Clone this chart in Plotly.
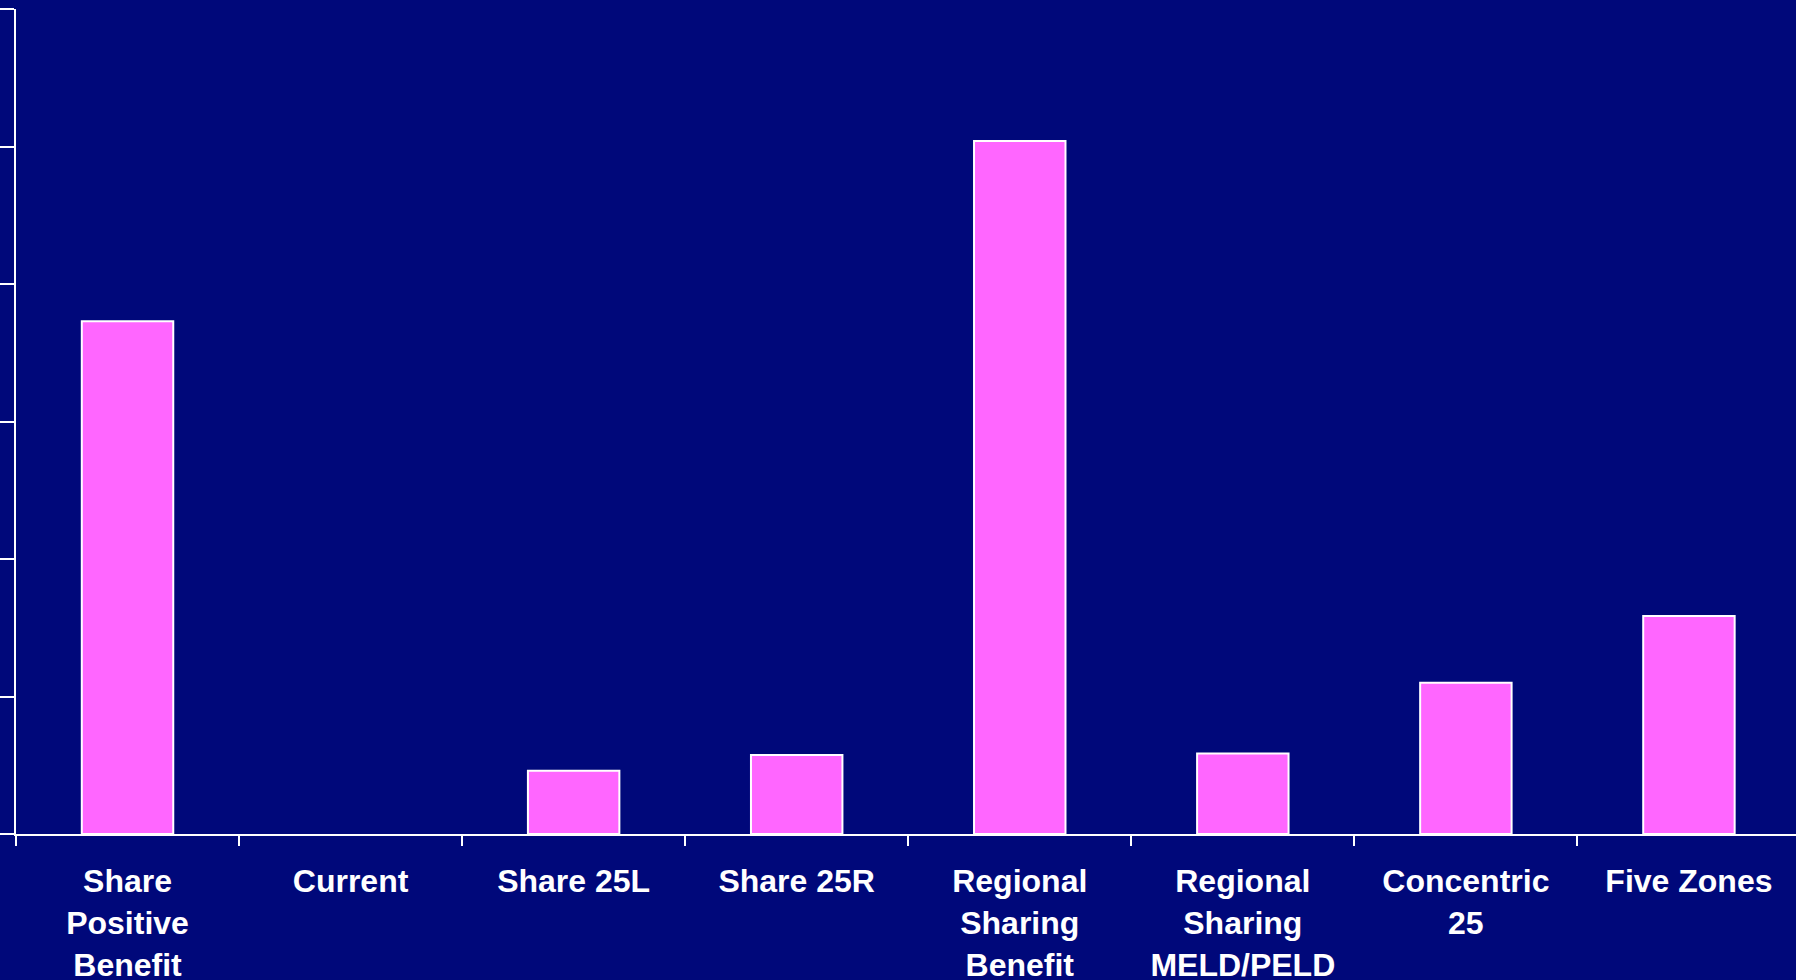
import plotly.graph_objects as go

# Allocation scenarios and their values
categories = [
    "Share<br>Positive<br>Benefit",
    "Current",
    "Share 25L",
    "Share 25R",
    "Regional<br>Sharing<br>Benefit",
    "Regional<br>Sharing<br>MELD/PELD",
    "Concentric<br>25",
    "Five Zones",
]
values = [37.3, 0, 4.6, 5.75, 50.4, 5.85, 11.0, 15.85]
y_ticks = [0, 10, 20, 30, 40, 50, 60]

NAVY = "#00087A"
PINK = "#FF66FF"

# no outline on empty bars
outline_widths = [2 if v > 0 else 0 for v in values]

fig = go.Figure(
    go.Bar(
        x=categories,
        y=values,
        width=0.41,
        marker=dict(color=PINK, line=dict(color="white", width=outline_widths)),
    )
)

fig.update_layout(
    width=1796,
    height=980,
    paper_bgcolor=NAVY,
    plot_bgcolor=NAVY,
    margin=dict(l=16, r=0, t=9, b=146),
    showlegend=False,
    font=dict(family="Liberation Sans, Arial, sans-serif", color="white"),
)

fig.update_xaxes(
    range=[-0.5, 7.48],
    automargin=False,
    showline=True,
    linecolor="white",
    linewidth=2,
    ticks="outside",
    tickson="boundaries",
    ticklen=10,
    tickwidth=2,
    tickcolor="white",
    showgrid=False,
    zeroline=False,
    tickfont=dict(size=32, color="white", family="Liberation Sans, Arial, sans-serif", weight="bold"),
    ticklabelstandoff=18,
)

fig.update_yaxes(
    range=[0, 60],
    automargin=False,
    tickvals=y_ticks,
    showticklabels=False,
    showline=True,
    linecolor="white",
    linewidth=2,
    ticks="outside",
    ticklen=16,
    tickwidth=2,
    tickcolor="white",
    showgrid=False,
    zeroline=False,
)

fig.write_html("out.html")
